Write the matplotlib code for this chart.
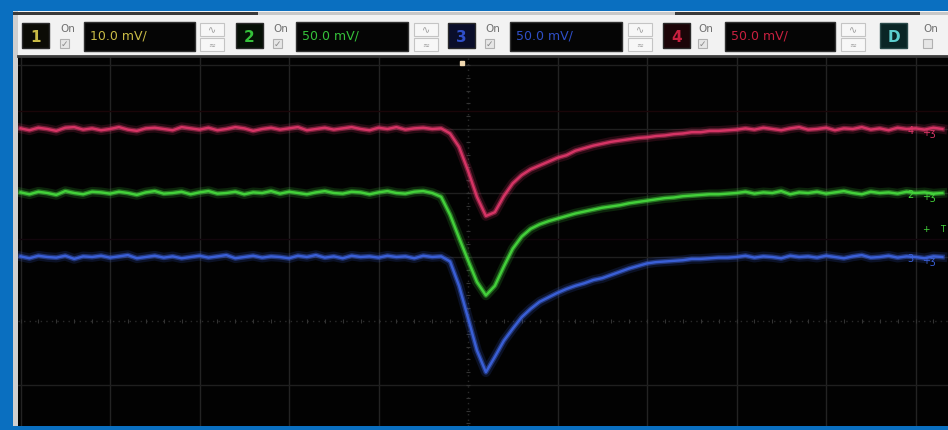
import numpy as np
import matplotlib
matplotlib.use("Agg")
import matplotlib.pyplot as plt
from matplotlib.patches import Rectangle

# ---------------------------------------------------------------- data
# horizontal position in divisions (0.1 div per sample), 0 = screen centre
time_div = np.round(np.arange(-5.0, 5.31, 0.1), 2)

# vertical position of each channel in divisions (0 = screen centre line)
ch4_red = [
    3.01, 2.98, 3.02, 3.00, 2.97, 3.02, 3.03, 2.99, 3.01, 2.98,
    3.00, 3.03, 2.99, 2.97, 3.01, 3.02, 3.00, 2.98, 3.03, 3.01,
    2.99, 3.02, 2.98, 3.00, 3.03, 3.01, 2.97, 3.00, 3.02, 2.99,
    3.01, 3.03, 2.98, 3.00, 3.02, 2.99, 3.01, 3.03, 3.00, 2.98,
    3.02, 3.00, 3.03, 2.99, 3.01, 3.02, 3.00, 3.01, 2.93, 2.72,
    2.35, 1.94, 1.64, 1.70, 1.95, 2.15, 2.28, 2.37, 2.43, 2.49,
    2.55, 2.59, 2.66, 2.70, 2.74, 2.77, 2.80, 2.82, 2.84, 2.86,
    2.87, 2.89, 2.90, 2.92, 2.93, 2.95, 2.95, 2.97, 2.97, 2.98,
    2.99, 3.01, 2.99, 3.02, 3.00, 2.98, 3.01, 3.03, 2.99, 3.00,
    3.02, 2.98, 3.01, 3.00, 3.03, 2.99, 3.01, 2.98, 3.02, 3.00,
    3.01, 2.99, 3.02, 3.00,
]
ch2_green = [
    2.01, 1.98, 2.02, 2.00, 1.97, 2.03, 2.00, 1.98, 2.02, 2.01,
    1.99, 2.02, 2.00, 1.97, 2.01, 2.03, 1.99, 2.00, 2.02, 1.98,
    2.01, 2.03, 1.99, 2.00, 2.02, 1.98, 2.01, 2.00, 2.03, 1.99,
    2.02, 2.00, 1.98, 2.01, 2.03, 2.00, 1.99, 2.02, 2.01, 1.98,
    2.01, 2.03, 2.00, 1.99, 2.02, 2.03, 2.00, 1.94, 1.66, 1.30,
    0.95, 0.61, 0.40, 0.55, 0.85, 1.13, 1.32, 1.44, 1.51, 1.56,
    1.60, 1.64, 1.68, 1.71, 1.74, 1.77, 1.79, 1.81, 1.84, 1.86,
    1.88, 1.90, 1.92, 1.93, 1.95, 1.96, 1.97, 1.98, 1.98, 1.99,
    2.00, 2.02, 1.99, 2.01, 2.00, 2.03, 1.98, 2.01, 2.00, 2.02,
    1.99, 2.01, 2.03, 2.00, 1.98, 2.02, 2.00, 2.01, 1.99, 2.02,
    2.00, 2.01, 1.99, 2.00,
]
ch3_blue = [
    1.01, 0.98, 1.02, 1.00, 0.99, 1.02, 0.97, 1.01, 1.00, 1.02,
    0.99, 1.01, 1.03, 0.98, 1.00, 1.02, 0.99, 1.01, 0.98, 1.00,
    1.02, 0.99, 1.01, 1.03, 0.98, 1.00, 1.02, 0.99, 1.01, 1.00,
    0.98, 1.02, 1.00, 1.03, 0.99, 1.01, 0.98, 1.02, 1.00, 1.01,
    0.99, 1.02, 1.00, 1.01, 0.98, 1.02, 1.00, 1.01, 0.93, 0.55,
    0.05, -0.46, -0.80, -0.56, -0.31, -0.12, 0.06, 0.19, 0.30, 0.37,
    0.44, 0.50, 0.55, 0.59, 0.64, 0.67, 0.72, 0.77, 0.82, 0.86,
    0.90, 0.92, 0.93, 0.94, 0.95, 0.97, 0.97, 0.98, 0.99, 0.99,
    1.00, 1.02, 0.99, 1.01, 1.00, 0.98, 1.02, 1.00, 1.01, 0.99,
    1.02, 1.00, 0.98, 1.01, 1.03, 0.99, 1.00, 1.02, 0.99, 1.01,
    1.00, 0.98, 1.01, 1.00,
]

# channel ground reference levels (div)
ref_levels = {"4": 3.0, "2": 2.0, "3": 1.0}
trigger_level = 1.45

channel_ids = ["1", "2", "3", "4"]
channel_scales = ["10.0 mV/", "50.0 mV/", "50.0 mV/", "50.0 mV/"]

# ---------------------------------------------------------------- style
W, H = 948, 431
BLUE_FRAME = "#0a6fc0"
text_cols = {"1": "#c9bb45", "2": "#35c23a", "3": "#2f4fc8", "4": "#c8203f"}
box_faces = {"1": "#0c0c06", "2": "#061006", "3": "#0a0e2a", "4": "#1c0508"}
trace_cols = {"4": "#dc3668", "2": "#45d63c", "3": "#3c62dc"}

fig = plt.figure(figsize=(W / 100, H / 100), dpi=100, facecolor=BLUE_FRAME)

# pixel-space layer for the instrument chrome
bg = fig.add_axes([0, 0, 1, 1], zorder=0)
bg.set_xlim(0, W)
bg.set_ylim(H, 0)
bg.axis("off")

bg.add_patch(Rectangle((13, 12), W - 13, 46, facecolor="#f2f2f2", edgecolor="none"))
bg.add_patch(Rectangle((13, 12), 5, 415, facecolor="#cfcfcf", edgecolor="none"))
bg.add_patch(Rectangle((13, 13), W - 13, 2.5, facecolor="#c8c8c8", edgecolor="none"))
bg.add_patch(Rectangle((13, 13), 245, 2.5, facecolor="#3a3a3a", edgecolor="none"))
bg.add_patch(Rectangle((675, 13), 245, 2.5, facecolor="#3a3a3a", edgecolor="none"))

layout = [  # number box x, "On" x, value box x0, x1, icon x
    (22, 59, 84, 195, 200),
    (236, 272, 296, 408, 414),
    (448, 484, 510, 622, 628),
    (663, 697, 725, 835, 841),
]


def on_checkbox(x, checked=True):
    bg.text(x + 1, 29, "On", fontsize=7.5, color="#707070", ha="left", va="center")
    bg.add_patch(Rectangle((x + 1, 40), 9, 9, facecolor="#e6e6e6", edgecolor="#b0b0b0", lw=0.8))
    if checked:
        bg.text(x + 5.5, 44.5, "\u2713", fontsize=6.5, color="#8a8a8a", ha="center", va="center")


for cid, scale, (nx, ox, vx0, vx1, ix) in zip(channel_ids, channel_scales, layout):
    col = text_cols[cid]
    bg.add_patch(Rectangle((nx, 24), 27, 25, facecolor=box_faces[cid], edgecolor="#2a2a2a", lw=1))
    bg.text(nx + 13.5, 37, cid, fontsize=11, fontweight="bold", color=col, ha="center", va="center")
    on_checkbox(ox)
    bg.add_patch(Rectangle((vx0, 23), vx1 - vx0, 29, facecolor="#050505", edgecolor="#303030", lw=1))
    bg.text(vx0 + 6, 36, scale, fontsize=9, color=col, ha="left", va="center")
    for yy in (24, 38.5):
        bg.add_patch(Rectangle((ix, yy), 24, 13, facecolor="#f7f7f7", edgecolor="#c4c4c4", lw=0.8))
    bg.text(ix + 12, 30.5, "\u223f", fontsize=7, color="#9a9a9a", ha="center", va="center")
    bg.text(ix + 12, 45, "\u2248", fontsize=6, color="#9a9a9a", ha="center", va="center")

# digital channel block
bg.add_patch(Rectangle((880, 24), 27, 25, facecolor="#0a2626", edgecolor="#2a4a4a", lw=1))
bg.text(893.5, 37, "D", fontsize=11, fontweight="bold", color="#5ccfcf", ha="center", va="center")
on_checkbox(922, checked=False)

# ---------------------------------------------------------------- scope screen
x0_px, x1_px, y0_px, y1_px = 18, W, 57, 427
cx_px, cy_px, dx_px, dy_px = 468, 322, 89.5, 64.0

ax = fig.add_axes([x0_px / W, (H - y1_px) / H, (x1_px - x0_px) / W, (y1_px - y0_px) / H], zorder=1)
ax.set_facecolor("#020202")
ax.set_xlim((x0_px - cx_px) / dx_px, (x1_px - cx_px) / dx_px)
ax.set_ylim((cy_px - y1_px) / dy_px, (cy_px - y0_px) / dy_px)
ax.set_xticks([])
ax.set_yticks([])
for side, sp in ax.spines.items():
    sp.set_visible(side == "top")
    sp.set_color("#3a3a3a")
    sp.set_linewidth(2)

# graticule
for gx in range(-5, 6):
    if gx != 0:
        ax.axvline(gx, color="#232323", lw=1, zorder=1)
for gy in range(-1, 5):
    if gy != 0:
        ax.axhline(gy, color="#1f1f1f", lw=1, zorder=1)
ax.axvline(0, color="#2a2a2a", lw=1, ls=(0, (1, 3)), zorder=1)
ax.axhline(0, color="#2a2a2a", lw=1, ls=(0, (1, 3)), zorder=1)
minor_x = np.arange(-5, 5.4, 0.2)
minor_y = np.arange(-1.6, 4.2, 0.2)
ax.plot(minor_x, np.zeros_like(minor_x), ls="none", marker="|", ms=3.5, mew=0.8, color="#333333", zorder=1)
ax.plot(np.zeros_like(minor_y), minor_y, ls="none", marker="_", ms=3.5, mew=0.8, color="#333333", zorder=1)

# faint persistence ghosts
ax.axhline(3.28, color="#1a0508", lw=1, zorder=1)
ax.axhline(1.28, color="#12050c", lw=1, zorder=1)


def draw_trace(values, color):
    v = np.asarray(values)
    ax.plot(time_div, v, color=color, lw=7, alpha=0.16, zorder=3, solid_joinstyle="round")
    ax.plot(time_div, v, color=color, lw=3.6, alpha=0.45, zorder=4, solid_joinstyle="round")
    ax.plot(time_div, v, color=color, lw=1.7, alpha=0.95, zorder=5, solid_joinstyle="round")


draw_trace(ch4_red, trace_cols["4"])
draw_trace(ch2_green, trace_cols["2"])
draw_trace(ch3_blue, trace_cols["3"])

# ground reference markers on the right edge
for cid, lvl in ref_levels.items():
    ax.text(4.94, lvl - 0.02, cid, fontsize=7, color=trace_cols[cid], ha="center", va="center", zorder=6)
    ax.text(5.15, lvl - 0.05, "+\u0292", fontsize=7, color=trace_cols[cid], ha="center", va="center", zorder=6)
ax.text(5.12, trigger_level, "+", fontsize=6.5, color="#45d63c", ha="center", va="center", zorder=6)
ax.text(5.3, trigger_level, "T", fontsize=6, color="#45d63c", ha="center", va="center", zorder=6)

# trigger position marker at the top of the screen
ax.plot([-0.07], [4.03], marker="s", ms=3.5, color="#f0d8b0", ls="none", zorder=6, clip_on=False)

fig.savefig("out.png", dpi=100, facecolor=fig.get_facecolor())
